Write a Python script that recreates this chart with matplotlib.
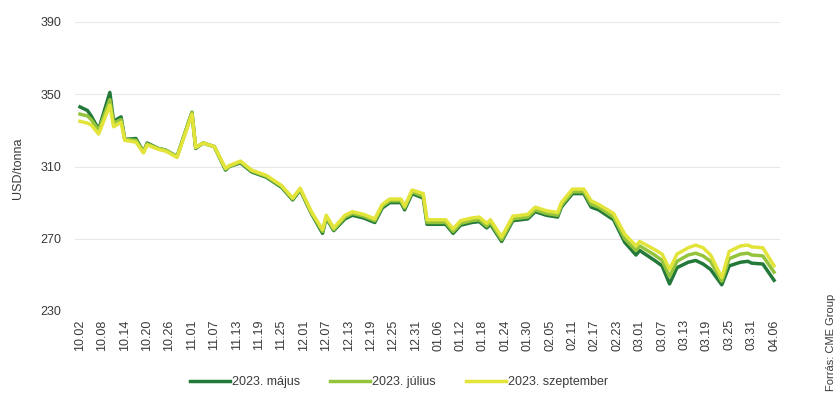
"""Corn futures price chart: three delivery months, USD/tonna."""

import matplotlib

matplotlib.use("Agg")

import matplotlib.dates as mdates
import matplotlib.pyplot as plt
import pandas as pd

DATES = [
  "2022-10-02", "2022-10-04", "2022-10-05", "2022-10-07", "2022-10-10",
  "2022-10-11", "2022-10-13", "2022-10-14", "2022-10-17", "2022-10-19",
  "2022-10-20", "2022-10-23", "2022-10-25", "2022-10-28", "2022-11-01",
  "2022-11-02", "2022-11-04", "2022-11-07", "2022-11-10", "2022-11-11",
  "2022-11-14", "2022-11-17", "2022-11-21", "2022-11-25", "2022-11-28",
  "2022-11-30", "2022-12-03", "2022-12-06", "2022-12-07", "2022-12-09",
  "2022-12-12", "2022-12-14", "2022-12-17", "2022-12-20", "2022-12-22",
  "2022-12-24", "2022-12-27", "2022-12-28", "2022-12-30", "2023-01-02",
  "2023-01-03", "2023-01-08", "2023-01-10", "2023-01-12", "2023-01-15",
  "2023-01-17", "2023-01-19", "2023-01-20", "2023-01-23", "2023-01-26",
  "2023-01-30", "2023-02-01", "2023-02-04", "2023-02-07", "2023-02-08",
  "2023-02-11", "2023-02-14", "2023-02-16", "2023-02-18", "2023-02-22",
  "2023-02-25", "2023-02-28", "2023-03-01", "2023-03-05", "2023-03-07",
  "2023-03-09", "2023-03-11", "2023-03-14", "2023-03-16", "2023-03-18",
  "2023-03-20", "2023-03-23", "2023-03-25", "2023-03-28", "2023-03-30",
  "2023-03-31", "2023-04-03", "2023-04-06",
]

MAY_2023 = [
  343, 341, 338, 330.5, 351, 335, 337.5, 325, 325.5, 318,
  323, 320, 319, 315.5, 340, 320, 323, 321, 308, 310,
  312, 307, 304, 298.5, 291.5, 297, 284, 273, 281.5, 274.5,
  281, 283, 281.5, 279, 287, 290, 290, 286, 295, 292.5,
  278, 278, 273, 277.5, 279, 279.5, 276, 278, 268.5, 280,
  281, 285, 283, 282, 287.5, 295, 295, 287.5, 286, 280.5,
  268, 261, 263.5, 258, 255, 245, 254, 257, 258, 256,
  253, 244.5, 255, 257, 257.5, 256.5, 256, 247,
]

JUL_2023 = [
  339, 338, 336, 330, 347, 334, 336, 325, 324.5, 318,
  322.5, 320, 319, 315.5, 340, 320.5, 323, 321, 308.5, 310,
  312.5, 307.5, 304.5, 299, 292, 297.5, 284.5, 274, 282, 275,
  282, 284, 282.5, 280, 288, 291, 291, 287, 296, 293.5,
  279, 279, 274, 278.5, 280, 280.5, 277, 279, 269.5, 281,
  282, 286, 284, 283, 288.5, 296, 296, 289, 287.5, 282,
  270, 263.5, 266, 261, 258, 249, 257.5, 261, 262, 260.5,
  257.5, 246.5, 259, 261.5, 262, 261, 260.5, 251.5,
]

SEP_2023 = [
  335, 334, 333, 328, 344, 332, 334.5, 324.5, 323.5, 317.5,
  322, 319.5, 318.5, 315, 339, 320.5, 323, 321, 309, 310.5,
  313, 308, 305, 299.5, 292.5, 298, 285, 275, 283, 276,
  283, 285, 283.5, 281, 289, 292, 292, 288, 297, 295,
  280.5, 280.5, 275.5, 280, 281.5, 282, 278.5, 280.5, 271, 282.5,
  283.5, 287.5, 285.5, 284.5, 290, 297.5, 297.5, 291, 289, 284,
  272.5, 266, 268.5, 264, 261.5, 253, 261.5, 265, 266.5, 265,
  261, 248.5, 263, 266, 266.5, 265.5, 265, 255,
]

SERIES = [
  ("2023. május", MAY_2023, "#23793a"),
  ("2023. július", JUL_2023, "#93c43c"),
  ("2023. szeptember", SEP_2023, "#e2e43a"),
]

Y_TICKS = [230, 270, 310, 350, 390]
TICK_COLOR = "#3a3a3a"


def main() -> None:
  plt.rcParams["font.family"] = ["Liberation Sans", "DejaVu Sans"]
  dates = pd.to_datetime(DATES)

  fig = plt.figure(figsize=(8.39, 3.96), dpi=100)
  fig.patch.set_facecolor("white")
  ax = fig.add_axes([75 / 839, 1 - 311 / 396, 705 / 839, 289 / 396])

  for label, values, color in SERIES:
    ax.plot(dates, values, color=color, linewidth=2.5, label=label,
            solid_joinstyle="round")

  start = pd.Timestamp("2022-10-02")
  end = pd.Timestamp("2023-04-06")
  ax.set_xlim(start - pd.Timedelta(days=1.34), end + pd.Timedelta(days=1.6))
  ax.set_ylim(230, 390)

  ticks = pd.date_range(start, end, freq="6D")
  ax.set_xticks(ticks)
  ax.xaxis.set_major_formatter(mdates.DateFormatter("%m.%d"))
  ax.set_yticks(Y_TICKS)
  ax.tick_params(axis="x", rotation=90, labelsize=9, length=0, pad=6,
                 colors=TICK_COLOR)
  ax.tick_params(axis="y", labelsize=9, length=0, pad=10,
                 colors=TICK_COLOR)
  ax.grid(axis="y", color="#e8e8e8", linewidth=0.8)
  ax.set_axisbelow(True)
  for spine in ax.spines.values():
    spine.set_visible(False)

  fig.text(18 / 839, 1 - 168 / 396, "USD/tonna", rotation=90, fontsize=9,
           color=TICK_COLOR, ha="center", va="center")
  fig.text(831 / 839, 1 - 391 / 396, "Forrás: CME Group", rotation=90,
           fontsize=8, color=TICK_COLOR, ha="center", va="bottom")

  fig.legend(
    loc="center",
    bbox_to_anchor=(399 / 839, 1 - 382 / 396),
    ncol=3,
    frameon=False,
    fontsize=9,
    handlelength=3.2,
    handletextpad=0.15,
    columnspacing=2.4,
    labelcolor=TICK_COLOR,
  )

  fig.savefig("out.png", dpi=100, facecolor="white")
  plt.close(fig)


if __name__ == "__main__":
  main()
